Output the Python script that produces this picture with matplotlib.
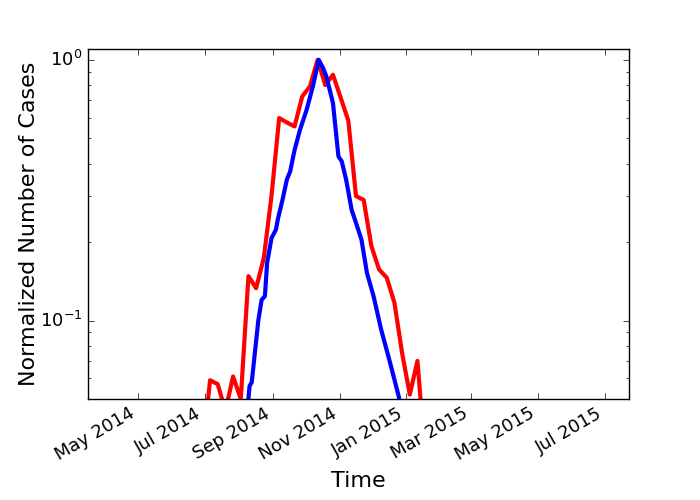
import numpy as np
import pandas as pd
import matplotlib
matplotlib.use('Agg')
import matplotlib.pyplot as plt
import matplotlib.dates as mdates

plt.style.use('classic')

# weekly reported cases (red), normalized to peak
red_start = '2014-06-29'
red_values = [0.030, 0.059, 0.057, 0.045, 0.061, 0.050, 0.148, 0.133, 0.174, 0.30, 0.598,
              0.575, 0.555, 0.723, 0.79, 1.0, 0.80, 0.876, 0.716, 0.584, 0.30,
              0.29, 0.193, 0.157, 0.146, 0.117, 0.075, 0.052, 0.070, 0.030]

# model curve (blue), normalized to peak
blue_dates = ['2014-08-09', '2014-08-11', '2014-08-13', '2014-08-19', '2014-08-22',
              '2014-08-25', '2014-08-27', '2014-08-31', '2014-09-04', '2014-09-06',
              '2014-09-10', '2014-09-14', '2014-09-17', '2014-09-21', '2014-09-26',
              '2014-10-02', '2014-10-08', '2014-10-13', '2014-10-17', '2014-10-20',
              '2014-10-26', '2014-10-31', '2014-11-03', '2014-11-07', '2014-11-12',
              '2014-11-17', '2014-11-21', '2014-11-26', '2014-12-02', '2014-12-09',
              '2014-12-17', '2014-12-25', '2014-12-29']
blue_values = [0.045, 0.056, 0.058, 0.10, 0.12, 0.124, 0.166, 0.207, 0.223, 0.247,
               0.29, 0.347, 0.373, 0.45, 0.54, 0.643, 0.80, 1.0, 0.93, 0.863,
               0.683, 0.426, 0.408, 0.347, 0.266, 0.23, 0.204, 0.152, 0.124, 0.092,
               0.069, 0.051, 0.040]

red_dates = pd.date_range(red_start, periods=len(red_values), freq='7D')
blue_dates = pd.to_datetime(blue_dates)

fig = plt.figure(figsize=(7, 5), dpi=100, facecolor='white')
ax = fig.add_axes([0.126, 0.202, 0.773, 0.70])

ax.plot(red_dates, red_values, color='red', linewidth=3)
ax.plot(blue_dates, blue_values, color='blue', linewidth=3)

ax.set_yscale('log')
ax.set_ylim(0.05, 1.1)
ax.set_xlim(pd.Timestamp('2014-03-17'), pd.Timestamp('2015-07-23'))

ax.xaxis.set_major_locator(mdates.MonthLocator(bymonth=[1, 3, 5, 7, 9, 11]))
ax.xaxis.set_major_formatter(mdates.DateFormatter('%b %Y'))
for lbl in ax.get_xticklabels():
    lbl.set_rotation(30)
    lbl.set_ha('right')

ax.tick_params(labelsize=13)
ax.set_xlabel('Time', fontsize=16)
ax.set_ylabel('Normalized Number of Cases', fontsize=16, labelpad=1)

fig.savefig('out.png', dpi=100, facecolor='white')
